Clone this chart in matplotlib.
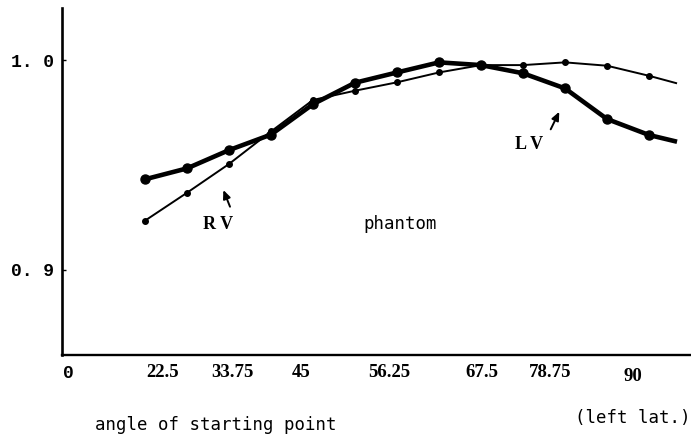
import matplotlib
matplotlib.use("Agg")
import matplotlib.pyplot as plt
from matplotlib.transforms import blended_transform_factory

# ---- data ----
angles = [22.5, 28.125, 33.75, 39.375, 45.0, 50.625, 56.25, 61.875,
          67.5, 73.125, 78.75, 84.375, 90.0]
lv_values = [0.9432, 0.9484, 0.9571, 0.9645, 0.9790, 0.9892, 0.9941,
             0.9989, 0.9976, 0.9937, 0.9865, 0.9719, 0.9643]
rv_values = [0.9235, 0.9368, 0.9505, 0.9660, 0.9810, 0.9854, 0.9894,
             0.9941, 0.9976, 0.9976, 0.9989, 0.9973, 0.9925]
# continuation of each curve past the last measured point (no marker)
tail_angle = 93.75
lv_tail = 0.9611
rv_tail = 0.9889

x_tick_labels = ["0", "22.5", "33.75", "45", "56.25", "67.5", "78.75", "90"]
y_ticks = [0.9, 1.0]
y_tick_labels = ["0. 9", "1. 0"]

# ---- layout (positions of the hand-placed labels, in axis units) ----
x_label_pos = [12.19, 24.91, 34.15, 43.39, 55.18, 67.63, 76.74, 87.86]
x_label_dy = [0, 0, 0, 0, 0, 0, 0, -4]  # pixels

W, H = 691, 436
fig = plt.figure(figsize=(W / 100, H / 100), dpi=100)
ax = fig.add_axes([62 / W, 1 - 355 / H, 1 - 62 / W, (355 - 8) / H])
ax.set_xlim(11.38, 95.62)
ax.set_ylim(0.8595, 1.0248)

for s in ["top", "right"]:
    ax.spines[s].set_visible(False)
ax.spines["left"].set_linewidth(1.9)
ax.spines["bottom"].set_linewidth(1.7)

# curves
ax.plot(angles + [tail_angle], rv_values + [rv_tail], color="black",
        lw=1.4, solid_capstyle="butt", zorder=2)
ax.plot(angles, rv_values, "o", color="black", ms=4, zorder=3)
ax.plot(angles + [tail_angle], lv_values + [lv_tail], color="black",
        lw=3.3, solid_capstyle="butt", solid_joinstyle="round", zorder=4)
ax.plot(angles, lv_values, "o", color="black", ms=6.5, zorder=5)

# y ticks
ax.set_yticks(y_ticks)
ax.set_yticklabels(y_tick_labels, fontfamily="Liberation Mono",
                   fontweight="bold", fontsize=13)
ax.tick_params(axis="y", direction="in", length=3, width=1, pad=6)
ax.set_xticks([])

# x labels
trans = blended_transform_factory(ax.transData, fig.transFigure)
for lab, xp, dy in zip(x_tick_labels, x_label_pos, x_label_dy):
    if lab == "0":
        ax.text(xp, 1 - (373 - dy) / H, lab, transform=trans, ha="center",
                va="center", fontfamily="Liberation Mono", fontweight="bold",
                fontsize=13)
    else:
        ax.text(xp, 1 - (372 - dy) / H, lab, transform=trans, ha="center",
                va="center", fontfamily="Liberation Serif", fontweight="bold",
                fontsize=13.5)

# annotations
ax.text(56.65, 1.0 - (224 - 60) / 2100, "phantom", ha="center", va="center",
        fontfamily="DejaVu Sans Mono", fontsize=12.5)
ax.text(32.34, 1.0 - (225 - 60) / 2100, "R V", ha="center", va="center",
        fontfamily="Liberation Serif", fontweight="bold", fontsize=13)
ax.text(73.93, 1.0 - (144 - 60) / 2100, "L V", ha="center", va="center",
        fontfamily="Liberation Serif", fontweight="bold", fontsize=13)

arrow_kw = dict(arrowstyle="-|>,head_length=0.5,head_width=0.22",
                color="black", lw=1.4, shrinkA=0, shrinkB=0)
ax.annotate("", xy=(32.99, 1.0 - (190 - 60) / 2100),
            xytext=(33.88, 1.0 - (206.7 - 60) / 2100), arrowprops=arrow_kw)
ax.annotate("", xy=(77.98, 1.0 - (111.7 - 60) / 2100),
            xytext=(76.83, 1.0 - (129.3 - 60) / 2100), arrowprops=arrow_kw)

fig.text(216 / W, 1 - 425 / H, "angle of starting point", ha="center",
         va="center", fontfamily="DejaVu Sans Mono", fontsize=12.5)
fig.text(633 / W, 1 - 418 / H, "(left lat.)", ha="center", va="center",
         fontfamily="DejaVu Sans Mono", fontsize=12.5)

fig.savefig("out.png", dpi=100)
